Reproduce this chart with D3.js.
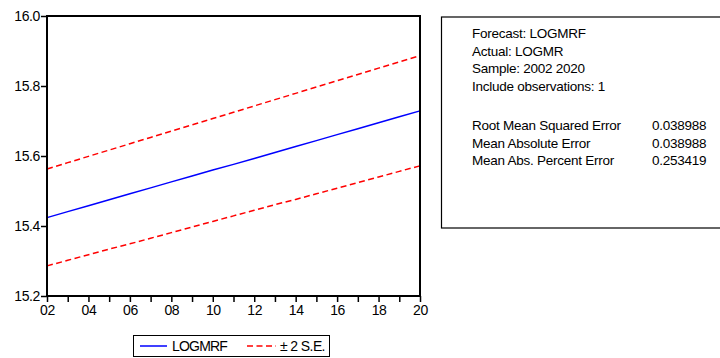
<!DOCTYPE html>
<html>
<head>
<meta charset="utf-8">
<script src="https://cdn.jsdelivr.net/npm/d3@7"></script>
<style>
  html, body { margin: 0; padding: 0; background: #fff; }
  svg { display: block; font-family: "Liberation Sans", Arial, sans-serif; }
</style>
</head>
<body>
<svg id="chart" width="720" height="358"></svg>
<script>
// Forecast years and series
const years = [2002, 2003, 2004, 2005, 2006, 2007, 2008, 2009, 2010, 2011,
               2012, 2013, 2014, 2015, 2016, 2017, 2018, 2019, 2020];
const logmrf = [15.424, 15.441, 15.458, 15.475, 15.492, 15.509, 15.526, 15.543, 15.560, 15.576,
                15.593, 15.610, 15.627, 15.644, 15.661, 15.678, 15.695, 15.712, 15.729];
const upperSE = [15.563, 15.581, 15.599, 15.617, 15.635, 15.653, 15.671, 15.689, 15.707, 15.725,
                 15.743, 15.761, 15.779, 15.797, 15.815, 15.833, 15.851, 15.869, 15.887];
const lowerSE = [15.286, 15.302, 15.318, 15.334, 15.349, 15.365, 15.381, 15.397, 15.413, 15.429,
                 15.445, 15.461, 15.476, 15.492, 15.508, 15.524, 15.540, 15.556, 15.572];
const yTicks = [15.2, 15.4, 15.6, 15.8, 16.0];
const xLabelYears = [2002, 2004, 2006, 2008, 2010, 2012, 2014, 2016, 2018, 2020];

// Statistics panel text
const infoLines = ["Forecast: LOGMRF", "Actual: LOGMR", "Sample: 2002 2020", "Include observations: 1"];
const statNames = ["Root Mean Squared Error", "Mean Absolute Error", "Mean Abs. Percent Error"];
const statValues = ["0.038988", "0.038988", "0.253419"];
const legendLabels = ["LOGMRF", "\u00B1 2 S.E."];

const svg = d3.select("#chart");
const plot = { left: 47, top: 16, right: 420, bottom: 296 };

const x = d3.scaleLinear().domain([2002, 2020]).range([plot.left, plot.right]);
const y = d3.scaleLinear().domain([15.2, 16.0]).range([plot.bottom, plot.top]);

// Axes
const yAxis = d3.axisLeft(y).tickValues(yTicks).tickFormat(d3.format(".1f")).tickSize(6).tickPadding(1);
const gy = svg.append("g").attr("transform", `translate(${plot.left},0)`).call(yAxis);
gy.select(".domain").remove();
gy.selectAll(".tick line").attr("stroke", "#000").attr("stroke-width", 1.5);
gy.selectAll(".tick text").attr("font-size", 14).attr("fill", "#000").attr("letter-spacing", -0.4);

const xAxis = d3.axisBottom(x).tickValues(years)
  .tickFormat(d => xLabelYears.includes(d) ? String(d).slice(2) : "")
  .tickSize(6).tickPadding(3);
const gx = svg.append("g").attr("transform", `translate(0,${plot.bottom})`).call(xAxis);
gx.select(".domain").remove();
gx.selectAll(".tick line").attr("stroke", "#000").attr("stroke-width", 1.5);
gx.selectAll(".tick text").attr("font-size", 14).attr("fill", "#000").attr("letter-spacing", -0.4);

// Series lines
const line = d3.line().x((d, i) => x(years[i])).y(d => y(d));
svg.append("path").datum(upperSE).attr("d", line)
  .attr("fill", "none").attr("stroke", "#ff0000").attr("stroke-width", 1.5).attr("stroke-dasharray", "6,3.5");
svg.append("path").datum(lowerSE).attr("d", line)
  .attr("fill", "none").attr("stroke", "#ff0000").attr("stroke-width", 1.5).attr("stroke-dasharray", "6,3.5");
svg.append("path").datum(logmrf).attr("d", line)
  .attr("fill", "none").attr("stroke", "#0000ff").attr("stroke-width", 1.5);

// Plot frame
svg.append("rect")
  .attr("x", plot.left).attr("y", plot.top)
  .attr("width", plot.right - plot.left).attr("height", plot.bottom - plot.top)
  .attr("fill", "none").attr("stroke", "#000").attr("stroke-width", 2);

// Legend
const lg = svg.append("g");
lg.append("rect").attr("x", 133.5).attr("y", 335.5).attr("width", 196).attr("height", 21)
  .attr("fill", "#fff").attr("stroke", "#000").attr("stroke-width", 1);
lg.append("line").attr("x1", 140).attr("x2", 167).attr("y1", 346).attr("y2", 346)
  .attr("stroke", "#0000ff").attr("stroke-width", 1.5);
lg.append("text").attr("x", 172).attr("y", 351).attr("font-size", 14).attr("letter-spacing", -0.8)
  .text(legendLabels[0]);
lg.append("line").attr("x1", 247).attr("x2", 276).attr("y1", 346).attr("y2", 346)
  .attr("stroke", "#ff0000").attr("stroke-width", 1.5).attr("stroke-dasharray", "6,3.5");
lg.append("text").attr("x", 280).attr("y", 351).attr("font-size", 14).attr("letter-spacing", -0.6)
  .text(legendLabels[1]);

// Statistics panel
const sp = svg.append("g");
sp.append("rect").attr("x", 441.5).attr("y", 17).attr("width", 290).attr("height", 211)
  .attr("fill", "#fff").attr("stroke", "#000").attr("stroke-width", 1.2);
sp.selectAll("text.info").data(infoLines).join("text").attr("class", "info")
  .attr("x", 472).attr("y", (d, i) => 38 + i * 17.5)
  .attr("font-size", 13.5).attr("letter-spacing", -0.25).text(d => d);
sp.selectAll("text.sname").data(statNames).join("text").attr("class", "sname")
  .attr("x", 472).attr("y", (d, i) => 130 + i * 17.5)
  .attr("font-size", 13.5).attr("letter-spacing", -0.25).text(d => d);
sp.selectAll("text.sval").data(statValues).join("text").attr("class", "sval")
  .attr("x", 652).attr("y", (d, i) => 130 + i * 17.5)
  .attr("font-size", 13.5).attr("letter-spacing", -0.25).text(d => d);
</script>
</body>
</html>
